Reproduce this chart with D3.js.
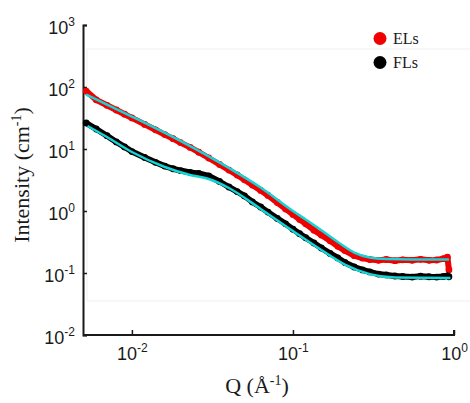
<!DOCTYPE html>
<html>
<head>
<meta charset="utf-8">
<script src="https://cdn.jsdelivr.net/npm/d3@7"></script>
<style>
  body { margin: 0; background: #fff; }
  svg { display: block; }
</style>
</head>
<body>
<div id="chart"></div>
<script>
// Q grid of the scattering data (1/Angstrom)
var qData = [0.0052, 0.006, 0.007, 0.008, 0.009, 0.010, 0.012, 0.014, 0.016, 0.018,
  0.020, 0.023, 0.026, 0.030, 0.035, 0.040, 0.045, 0.050, 0.056, 0.063,
  0.070, 0.080, 0.090, 0.10, 0.11, 0.12, 0.135, 0.15, 0.17, 0.19,
  0.21, 0.24, 0.27, 0.30, 0.34, 0.38, 0.43, 0.48, 0.55, 0.62,
  0.70, 0.78, 0.86, 0.91, 0.93];

// ELs intensity (cm-1)
var elData = [86, 62, 50.7, 42.6, 36.4, 31.7, 24.9, 20.4, 17.1, 14.7,
  12.7, 10.6, 8.87, 7.16, 5.62, 4.58, 3.81, 3.18, 2.62, 2.15,
  1.78, 1.37, 1.08, 0.88, 0.73, 0.62, 0.49, 0.41, 0.33, 0.27,
  0.23, 0.19, 0.174, 0.165, 0.16, 0.165, 0.158, 0.163, 0.16, 0.166,
  0.16, 0.162, 0.17, 0.18, 0.112];

// FLs intensity (cm-1)
var flData = [26.3, 21.0, 16.4, 13.0, 10.8, 9.1, 7.3, 6.1, 5.3, 4.8,
  4.49, 4.18, 4.04, 3.67, 2.99, 2.44, 2.06, 1.75, 1.40, 1.16,
  0.96, 0.76, 0.62, 0.51, 0.43, 0.37, 0.305, 0.253, 0.207, 0.175,
  0.148, 0.125, 0.112, 0.104, 0.096, 0.093, 0.0895, 0.088, 0.086, 0.089,
  0.087, 0.086, 0.088, 0.09, 0.087];

// model fits (cyan)
var qFitEL = [0.0052, 0.010, 0.020, 0.040, 0.063, 0.10, 0.12, 0.15, 0.19, 0.24, 0.30, 0.38, 0.55, 0.93];
var elFit = [75.7, 33.4, 13.5, 4.94, 2.39, 1.0, 0.73, 0.49, 0.316, 0.214, 0.178, 0.168, 0.165, 0.165];

var qFitFL = [0.0053, 0.007, 0.010, 0.016, 0.023, 0.030, 0.040, 0.063, 0.10, 0.15, 0.21, 0.30, 0.43, 0.95];
var flFit = [23.5, 15.6, 8.95, 5.13, 3.81, 3.28, 2.35, 1.08, 0.475, 0.235, 0.137, 0.096, 0.0846, 0.083];

var xTicks = [0.01, 0.1, 1];
var xTickExp = ["-2", "-1", "0"];
var yTicks = [0.01, 0.1, 1, 10, 100, 1000];
var yTickExp = ["-2", "-1", "0", "1", "2", "3"];

var legendNames = ["ELs", "FLs"];
var legendColors = ["#f00000", "#000000"];

var w = 470, h = 403;
var fitColor = "#14d4d6";

var svg = d3.select("#chart").append("svg")
    .attr("width", w)
    .attr("height", h);

var x = d3.scaleLog().domain([0.00497, 1]).range([83, 454]);
var y = d3.scaleLog().domain([0.01, 1000]).range([335, 25]);

// faint frame left over in the figure
svg.append("rect")
    .attr("x", 87).attr("y", 49)
    .attr("width", 390).attr("height", 252)
    .attr("fill", "none")
    .attr("stroke", "#efefef")
    .attr("stroke-width", 1);

// axes
var xAxis = svg.append("g")
    .attr("transform", "translate(0,335)")
    .call(d3.axisBottom(x).tickValues(xTicks).tickSize(-5).tickFormat(""));
var yAxis = svg.append("g")
    .attr("transform", "translate(83,0)")
    .call(d3.axisLeft(y).tickValues(yTicks).tickSize(-4).tickFormat(""));

[xAxis, yAxis].forEach(function (a) {
    a.select(".domain").attr("stroke", "#1a1a1a").attr("stroke-width", 2);
    a.selectAll(".tick line").attr("stroke", "#1a1a1a").attr("stroke-width", 1.5);
});
// close the x-axis end like the original
xAxis.select(".domain").attr("d", "M83,0H454V-5");

xAxis.selectAll(".tick").each(function (d, i) {
    var t = d3.select(this).append("text")
        .attr("y", 25)
        .attr("fill", "#1a1a1a")
        .attr("text-anchor", "middle")
        .style("font-family", "'Liberation Sans', Arial, sans-serif")
        .style("font-size", "18px");
    t.append("tspan").text("10");
    t.append("tspan").attr("dy", -8).style("font-size", "12px").text(xTickExp[i]);
});

yAxis.selectAll(".tick").each(function (d, i) {
    var t = d3.select(this).append("text")
        .attr("x", -8)
        .attr("y", 8)
        .attr("fill", "#1a1a1a")
        .attr("text-anchor", "end")
        .style("font-family", "'Liberation Sans', Arial, sans-serif")
        .style("font-size", "18px");
    t.append("tspan").text("10");
    t.append("tspan").attr("dy", -8).style("font-size", "12px").text(yTickExp[i]);
});

// axis titles
var xt = svg.append("text")
    .attr("x", 257).attr("y", 393)
    .attr("text-anchor", "middle")
    .attr("fill", "#1a1a1a")
    .style("font-family", "'Liberation Serif', 'Times New Roman', serif")
    .style("font-size", "22px");
xt.append("tspan").text("Q (\u00c5");
xt.append("tspan").attr("dy", -8).style("font-size", "14px").text("-1");
xt.append("tspan").attr("dy", 8).text(")");

var yt = svg.append("text")
    .attr("transform", "translate(29,175) rotate(-90)")
    .attr("text-anchor", "middle")
    .attr("fill", "#1a1a1a")
    .style("font-family", "'Liberation Serif', 'Times New Roman', serif")
    .style("font-size", "22px");
yt.append("tspan").text("Intensity (cm");
yt.append("tspan").attr("dy", -8).style("font-size", "14px").text("-1");
yt.append("tspan").attr("dy", 8).text(")");

// data series
var series = [
    {q: qData, v: elData, color: legendColors[0]},
    {q: qData, v: flData, color: legendColors[1]}
];

var line = d3.line()
    .x(function (d) { return x(d[0]); })
    .y(function (d) { return y(d[1]); });

series.forEach(function (s) {
    var pts = s.q.map(function (q, i) { return [q, s.v[i]]; });
    svg.append("path")
        .datum(pts)
        .attr("d", line)
        .attr("fill", "none")
        .attr("stroke", s.color)
        .attr("stroke-width", 6)
        .attr("stroke-linejoin", "round");
    svg.append("g").selectAll("circle")
        .data(pts)
        .enter()
        .append("circle")
        .attr("cx", function (d) { return x(d[0]); })
        .attr("cy", function (d) { return y(d[1]); })
        .attr("r", 3.4)
        .attr("fill", s.color);
});

// fits
var fitLine = d3.line()
    .x(function (d) { return x(d[0]); })
    .y(function (d) { return y(d[1]); })
    .curve(d3.curveMonotoneX);

[[qFitEL, elFit], [qFitFL, flFit]].forEach(function (f) {
    svg.append("path")
        .datum(f[0].map(function (q, i) { return [q, f[1][i]]; }))
        .attr("d", fitLine)
        .attr("fill", "none")
        .attr("stroke", fitColor)
        .attr("stroke-width", 2.5);
});

// legend
var legend = svg.append("g").selectAll("g")
    .data(legendNames)
    .enter()
    .append("g")
    .attr("transform", function (d, i) { return "translate(380," + (38.5 + i * 24) + ")"; });
legend.append("circle")
    .attr("r", 6.5)
    .attr("fill", function (d, i) { return legendColors[i]; });
legend.append("text")
    .attr("x", 13)
    .attr("y", 5.5)
    .attr("fill", "#1a1a1a")
    .style("font-family", "'Liberation Serif', 'Times New Roman', serif")
    .style("font-size", "16px")
    .text(function (d) { return d; });
</script>
</body>
</html>
